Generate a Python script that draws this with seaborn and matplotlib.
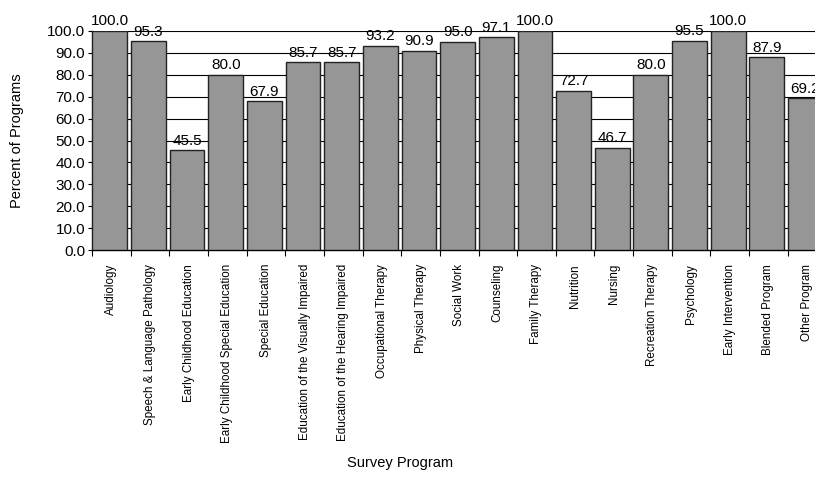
import seaborn as sns
import matplotlib.pyplot as plt
from matplotlib.ticker import FixedLocator
import pandas as pd

programs = [
    "Audiology", "Speech & Language Pathology", "Early Childhood Education",
    "Early Childhood Special Education", "Special Education",
    "Education of the Visually Impaired", "Education of the Hearing Impaired",
    "Occupational Therapy", "Physical Therapy", "Social Work", "Counseling",
    "Family Therapy", "Nutrition", "Nursing", "Recreation Therapy",
    "Psychology", "Early Intervention", "Blended Program", "Other Program",
]
percents = [100.0, 95.3, 45.5, 80.0, 67.9, 85.7, 85.7, 93.2, 90.9, 95.0,
            97.1, 100.0, 72.7, 46.7, 80.0, 95.5, 100.0, 87.9, 69.2]
yticks = [0, 10, 20, 30, 40, 50, 60, 70, 80, 90, 100]

df = pd.DataFrame({"program": programs, "percent": percents})

sns.set_theme(style="white")
plt.rcParams["font.family"] = ["Liberation Sans", "DejaVu Sans"]
plt.rcParams["text.color"] = "black"
plt.rcParams["axes.labelcolor"] = "black"
plt.rcParams["xtick.color"] = "black"
plt.rcParams["ytick.color"] = "black"

fig = plt.figure(figsize=(8.15, 4.79), dpi=100)
n = len(programs)
ax = fig.add_axes([92 / 815, 1 - 250 / 479, n * 38.65 / 815, 219 / 479])

sns.barplot(data=df, x="program", y="percent", color="#969696",
            edgecolor="#222222", linewidth=1.0, width=0.9, saturation=1,
            ax=ax, zorder=3)
# bars sit flush with the left boundary of each slot
for p in ax.patches:
    p.set_x(p.get_x() - 0.04)

ax.set_xlim(-0.5, n - 0.5)
ax.set_ylim(0, 100)
ax.set_yticks(yticks)
ax.set_yticklabels([f"{v:.1f}" for v in yticks], fontsize=11)
ax.yaxis.grid(True, color="black", linewidth=0.8, zorder=0)
ax.set_axisbelow(True)

ax.set_xticks(range(n))
ax.set_xticklabels(programs, rotation=90, fontsize=8.4)
ax.xaxis.set_minor_locator(FixedLocator([i - 0.5 for i in range(n + 1)]))
ax.tick_params(axis="x", which="major", length=0, pad=10)
ax.tick_params(axis="x", which="minor", length=4, width=0.8, direction="out", bottom=True)
ax.tick_params(axis="y", length=3, width=0.8, direction="out", left=True, pad=2)

for s in ["top", "right"]:
    ax.spines[s].set_visible(False)
for s in ["left", "bottom"]:
    ax.spines[s].set_color("black")
    ax.spines[s].set_linewidth(1.0)

for i, v in enumerate(percents):
    ax.annotate(f"{v:.1f}", xy=(i - 0.04, v), xytext=(0, 2),
                textcoords="offset points", ha="center", va="bottom",
                fontsize=11, clip_on=False, zorder=5)

ax.set_xlabel("Survey Program", fontsize=10.5)
ax.set_ylabel("Percent of Programs", fontsize=10.5)
ax.xaxis.set_label_coords(0.419, -0.94)
ax.yaxis.set_label_coords(-0.092, 0.5)

fig.savefig("out.png", dpi=100)
